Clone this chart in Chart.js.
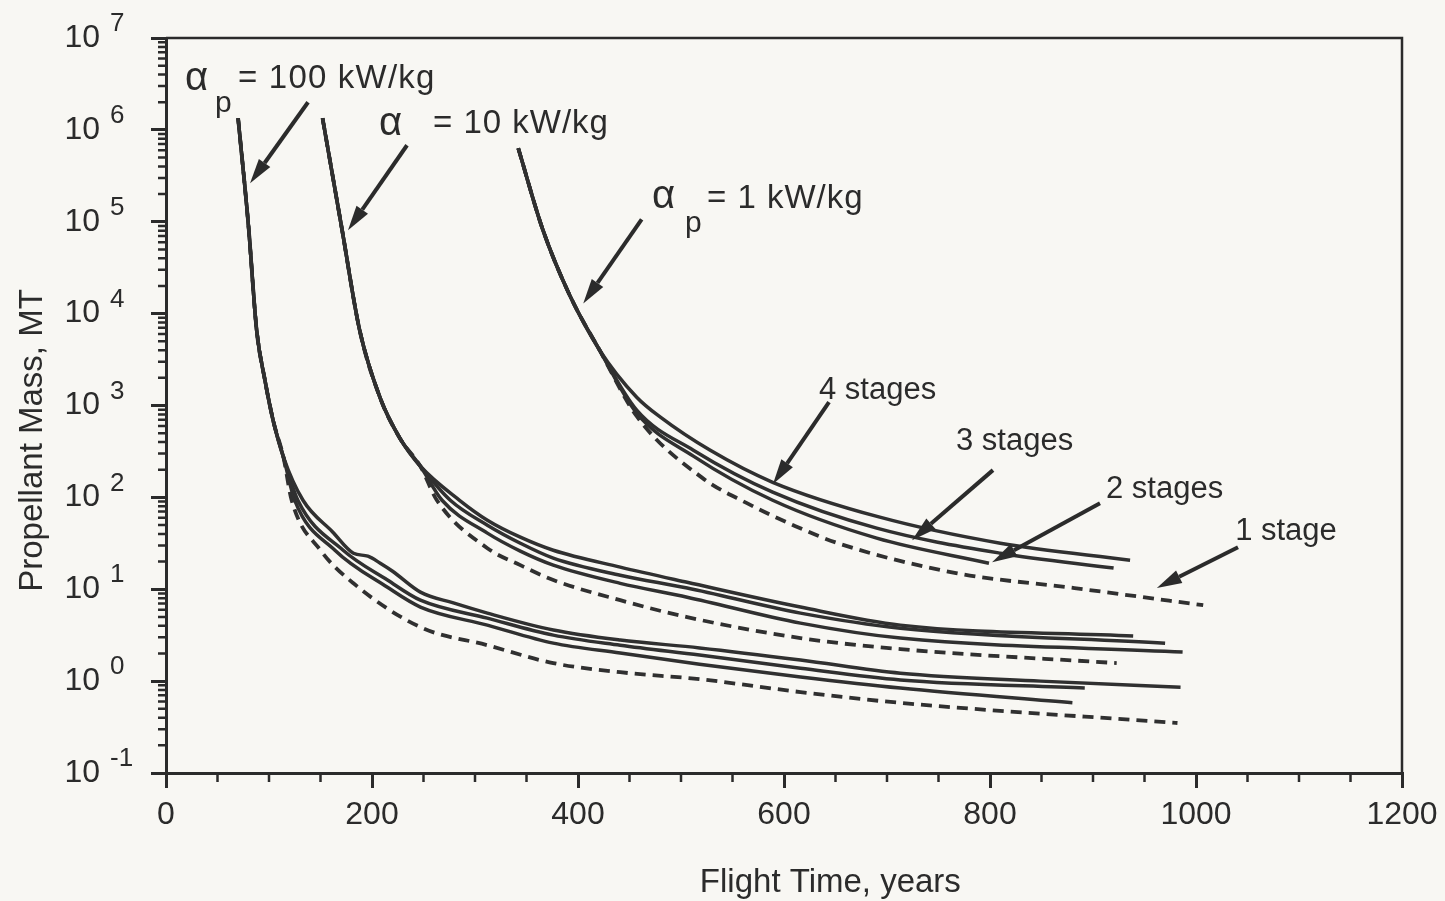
<!DOCTYPE html>
<html>
<head>
<meta charset="utf-8">
<title>Propellant Mass vs Flight Time</title>
<script src="https://cdn.jsdelivr.net/npm/chart.js@4.4.1/dist/chart.umd.min.js"></script>
<style>
  html, body { margin: 0; padding: 0; background: #f8f7f3; }
  #wrap { width: 1445px; height: 901px; }
</style>
</head>
<body>
<div id="wrap"><canvas id="myChart" width="1445" height="901"></canvas></div>
<script>
// axis ticks
var xMajorTicks = [0, 200, 400, 600, 800, 1000, 1200];
var xMinorTicks = [50, 100, 150, 250, 300, 350, 450, 500, 550, 650, 700, 750, 850, 900, 950, 1050, 1100, 1150];
var yDecades = [-1, 0, 1, 2, 3, 4, 5, 6, 7];
var yMinorSteps = [2, 3, 4, 5, 6, 7, 8, 9];

// alpha_p = 100 kW/kg
var trunkYearsA = [70, 80, 88, 96, 104, 114];
var trunkMassA = [1.34e6, 9.2e4, 6.6e3, 1.9e3, 690, 275];
var yearsA4 = [133, 162, 182, 196, 208, 220, 247, 279, 312, 376, 441, 518, 616, 713, 849, 985];
var massA4 = [93, 41.8, 24.7, 22.9, 19.2, 15.7, 9.3, 7.1, 5.5, 3.6, 2.8, 2.3, 1.7, 1.22, 1.0, 0.86];
var yearsA3 = [128, 172, 215, 247, 312, 376, 441, 518, 616, 713, 892];
var massA3 = [93, 26.6, 12.6, 7.6, 4.85, 3.17, 2.46, 1.92, 1.38, 1.03, 0.84];
var yearsA2 = [125, 164, 215, 247, 312, 376, 441, 518, 616, 713, 880];
var massA2 = [93, 26.6, 10.5, 6.4, 4.07, 2.59, 2.02, 1.53, 1.11, 0.84, 0.58];
var yearsA1 = [122, 150, 182, 247, 312, 376, 441, 518, 616, 713, 982];
var massA1 = [93, 26.6, 11.6, 3.87, 2.46, 1.57, 1.25, 1.05, 0.76, 0.58, 0.35];

// alpha_p = 10 kW/kg
var trunkYearsB = [152, 171, 188, 208, 227, 247];
var trunkMassB = [1.34e6, 8.1e4, 6.6e3, 1200, 441, 218];
var yearsB4 = [285, 312, 344, 376, 441, 506, 616, 713, 939];
var massB4 = [93, 56.5, 36.9, 26.6, 17.4, 11.9, 6.4, 4.07, 3.09];
var yearsB3 = [276, 312, 344, 376, 441, 506, 616, 713, 970];
var massB3 = [93, 49.8, 31.7, 21.8, 14.2, 10.3, 5.5, 3.77, 2.59];
var yearsB2 = [268, 312, 344, 376, 441, 506, 616, 713, 987];
var massB2 = [93, 40.8, 26, 18.3, 11.6, 8.2, 4.28, 2.94, 2.07];
var yearsB1 = [263, 312, 344, 376, 441, 506, 616, 713, 923];
var massB1 = [93, 28, 18.3, 12.6, 7.6, 4.97, 2.94, 2.23, 1.57];

// alpha_p = 1 kW/kg
var trunkYearsC = [342, 366, 392, 421];
var trunkMassC = [6.3e5, 8.1e4, 1.58e4, 4.0e3];
var yearsC4 = [457, 480, 528, 589, 693, 810, 936];
var massC4 = [1230, 746, 327, 146, 60.9, 31.7, 20.7];
var yearsC3 = [457, 512, 589, 690, 810, 920];
var massC3 = [889, 326, 114, 46.2, 24.7, 17];
var yearsC2 = [457, 512, 589, 690, 799];
var massC2 = [824, 281, 93, 36, 19.2];
var yearsC1 = [457, 521, 564, 609, 652, 767, 882, 1007];
var massC1 = [765, 162, 86.5, 49.8, 31.8, 15, 10.3, 6.7];

var ink = '#303030';

function curve(tYears, tMass, years, mass, dashed) {
  var t = tYears.concat(years);
  var m = tMass.concat(mass);
  return {
    data: t.map(function (v, i) { return { x: v, y: m[i] }; }),
    borderColor: ink,
    borderWidth: dashed ? 3.8 : 3.5,
    borderDash: dashed ? [11, 7] : [],
    pointRadius: 0,
    cubicInterpolationMode: 'monotone',
    fill: false
  };
}

// annotation texts and arrows, placed in data units (years, MT)
var notes = [
  { text: '\u03b1', x: 18.4, y: 2.70e6, size: 40, sp: 0 },
  { text: 'p', x: 47.6, y: 1.55e6, size: 30, sp: 0 },
  { text: '= 100 kW/kg', x: 69.9, y: 2.84e6, size: 33, sp: 1.2 },
  { text: '\u03b1', x: 206.8, y: 8.73e5, size: 40, sp: 0 },
  { text: '= 10 kW/kg', x: 259.2, y: 9.18e5, size: 33, sp: 1 },
  { text: '\u03b1', x: 471.8, y: 1.40e5, size: 40, sp: 0 },
  { text: 'p', x: 503.9, y: 7.69e4, size: 30, sp: 0 },
  { text: '= 1 kW/kg', x: 525.2, y: 1.40e5, size: 33, sp: 1 },
  { text: '4 stages', x: 634, y: 1170, size: 31, sp: 0 },
  { text: '3 stages', x: 767, y: 327, size: 31, sp: 0 },
  { text: '2 stages', x: 912.6, y: 98, size: 31, sp: 0 },
  { text: '1 stage', x: 1038, y: 34.2, size: 31, sp: 0 }
];
var arrows = [
  [137.9, 2.0e6, 81.6, 2.62e5],
  [234, 6.8e5, 176.7, 8.08e4],
  [461.8, 1.06e5, 405.1, 1.29e4],
  [643.7, 1087, 589.3, 140],
  [802.9, 198, 724.3, 34.2],
  [906.8, 86.5, 802, 19.7],
  [1040.8, 28.7, 962, 10.3]
];

function drawArrow(ctx, x0, y0, x1, y1) {
  var ang = Math.atan2(y1 - y0, x1 - x0);
  var head = 25, half = 7;
  var bx = x1 - head * Math.cos(ang), by = y1 - head * Math.sin(ang);
  ctx.beginPath();
  ctx.moveTo(x0, y0);
  ctx.lineTo(bx, by);
  ctx.stroke();
  ctx.beginPath();
  ctx.moveTo(x1, y1);
  ctx.lineTo(bx + half * Math.sin(ang), by - half * Math.cos(ang));
  ctx.lineTo(bx - half * Math.sin(ang), by + half * Math.cos(ang));
  ctx.closePath();
  ctx.fill();
}

var paperPlugin = {
  id: 'paper',
  beforeDraw: function (chart) {
    var ctx = chart.ctx;
    ctx.save();
    ctx.fillStyle = '#f8f7f3';
    ctx.fillRect(0, 0, chart.width, chart.height);
    ctx.restore();
  },
  afterDatasetsDraw: function (chart) {
    var ctx = chart.ctx, xs = chart.scales.x, ys = chart.scales.y;
    ctx.save();
    ctx.fillStyle = '#2b2b2b';
    ctx.strokeStyle = '#2b2b2b';
    ctx.lineWidth = 4;
    arrows.forEach(function (a) {
      drawArrow(ctx, xs.getPixelForValue(a[0]), ys.getPixelForValue(a[1]),
        xs.getPixelForValue(a[2]), ys.getPixelForValue(a[3]));
    });
    ctx.textAlign = 'left';
    ctx.textBaseline = 'alphabetic';
    notes.forEach(function (n) {
      ctx.font = n.size + "px 'Liberation Sans', Arial, sans-serif";
      ctx.letterSpacing = n.sp + 'px';
      ctx.fillText(n.text, xs.getPixelForValue(n.x), ys.getPixelForValue(n.y));
    });
    ctx.restore();
  },
  afterDraw: function (chart) {
    var ctx = chart.ctx, xs = chart.scales.x, ys = chart.scales.y, a = chart.chartArea;
    ctx.save();
    ctx.strokeStyle = '#2b2b2b';
    // frame top and right
    ctx.lineWidth = 2.5;
    ctx.beginPath();
    ctx.moveTo(a.left, a.top);
    ctx.lineTo(a.right, a.top);
    ctx.lineTo(a.right, a.bottom);
    ctx.stroke();
    // minor ticks
    ctx.lineWidth = 2.5;
    ctx.beginPath();
    xMinorTicks.forEach(function (v) {
      var px = xs.getPixelForValue(v);
      ctx.moveTo(px, a.bottom);
      ctx.lineTo(px, a.bottom + 9);
    });
    yDecades.slice(0, -1).forEach(function (e) {
      yMinorSteps.forEach(function (m) {
        var py = ys.getPixelForValue(m * Math.pow(10, e));
        ctx.moveTo(a.left - 8, py);
        ctx.lineTo(a.left, py);
      });
    });
    ctx.stroke();
    // exponents of the y labels
    ctx.fillStyle = '#2b2b2b';
    ctx.font = "26px 'Liberation Sans', Arial, sans-serif";
    ctx.textAlign = 'left';
    ctx.textBaseline = 'middle';
    ys.ticks.forEach(function (t) {
      var e = Math.round(Math.log10(t.value));
      ctx.fillText(String(e), a.left - 56, ys.getPixelForValue(t.value) - 14);
    });
    // axis titles
    ctx.font = "33px 'Liberation Sans', Arial, sans-serif";
    ctx.textAlign = 'center';
    ctx.textBaseline = 'alphabetic';
    ctx.fillText('Flight Time, years', xs.getPixelForValue(645), a.bottom + 119);
    ctx.translate(a.left - 124, (a.top + a.bottom) / 2 + 35);
    ctx.rotate(-Math.PI / 2);
    ctx.fillText('Propellant Mass, MT', 0, 0);
    ctx.restore();
  }
};

Chart.defaults.font.family = "'Liberation Sans', Arial, Helvetica, sans-serif";
Chart.defaults.color = '#2b2b2b';

new Chart('myChart', {
  type: 'line',
  data: {
    datasets: [
      curve(trunkYearsA, trunkMassA, yearsA4, massA4, false),
      curve(trunkYearsA, trunkMassA, yearsA3, massA3, false),
      curve(trunkYearsA, trunkMassA, yearsA2, massA2, false),
      curve(trunkYearsA, trunkMassA, yearsA1, massA1, true),
      curve(trunkYearsB, trunkMassB, yearsB4, massB4, false),
      curve(trunkYearsB, trunkMassB, yearsB3, massB3, false),
      curve(trunkYearsB, trunkMassB, yearsB2, massB2, false),
      curve(trunkYearsB, trunkMassB, yearsB1, massB1, true),
      curve(trunkYearsC, trunkMassC, yearsC4, massC4, false),
      curve(trunkYearsC, trunkMassC, yearsC3, massC3, false),
      curve(trunkYearsC, trunkMassC, yearsC2, massC2, false),
      curve(trunkYearsC, trunkMassC, yearsC1, massC1, true)
    ]
  },
  options: {
    responsive: false,
    animation: false,
    layout: { padding: { top: 38, right: 43, left: 0, bottom: 0 } },
    plugins: { legend: { display: false }, tooltip: { enabled: false } },
    scales: {
      x: {
        type: 'linear',
        min: 0,
        max: 1200,
        afterBuildTicks: function (s) { s.ticks = xMajorTicks.map(function (v) { return { value: v }; }); },
        afterFit: function (s) { s.height = 128; s.paddingLeft = 0; s.paddingRight = 0; },
        ticks: { font: { size: 32 }, padding: 8, maxRotation: 0, autoSkip: false,
          callback: function (v) { return String(v); } },
        grid: { drawOnChartArea: false, drawTicks: true, tickLength: 15, lineWidth: 3, color: '#2b2b2b' },
        border: { display: true, width: 3, color: '#2b2b2b' }
      },
      y: {
        type: 'logarithmic',
        min: 0.1,
        max: 1e7,
        afterBuildTicks: function (s) { s.ticks = yDecades.map(function (e) { return { value: Math.pow(10, e) }; }); },
        afterFit: function (s) { s.width = 166; s.paddingTop = 0; s.paddingBottom = 0; },
        ticks: { font: { size: 32 }, padding: 51, autoSkip: false, callback: function () { return '10'; } },
        grid: { drawOnChartArea: false, drawTicks: true, tickLength: 15, lineWidth: 3, color: '#2b2b2b' },
        border: { display: true, width: 3, color: '#2b2b2b' }
      }
    }
  },
  plugins: [paperPlugin]
});
</script>
</body>
</html>
